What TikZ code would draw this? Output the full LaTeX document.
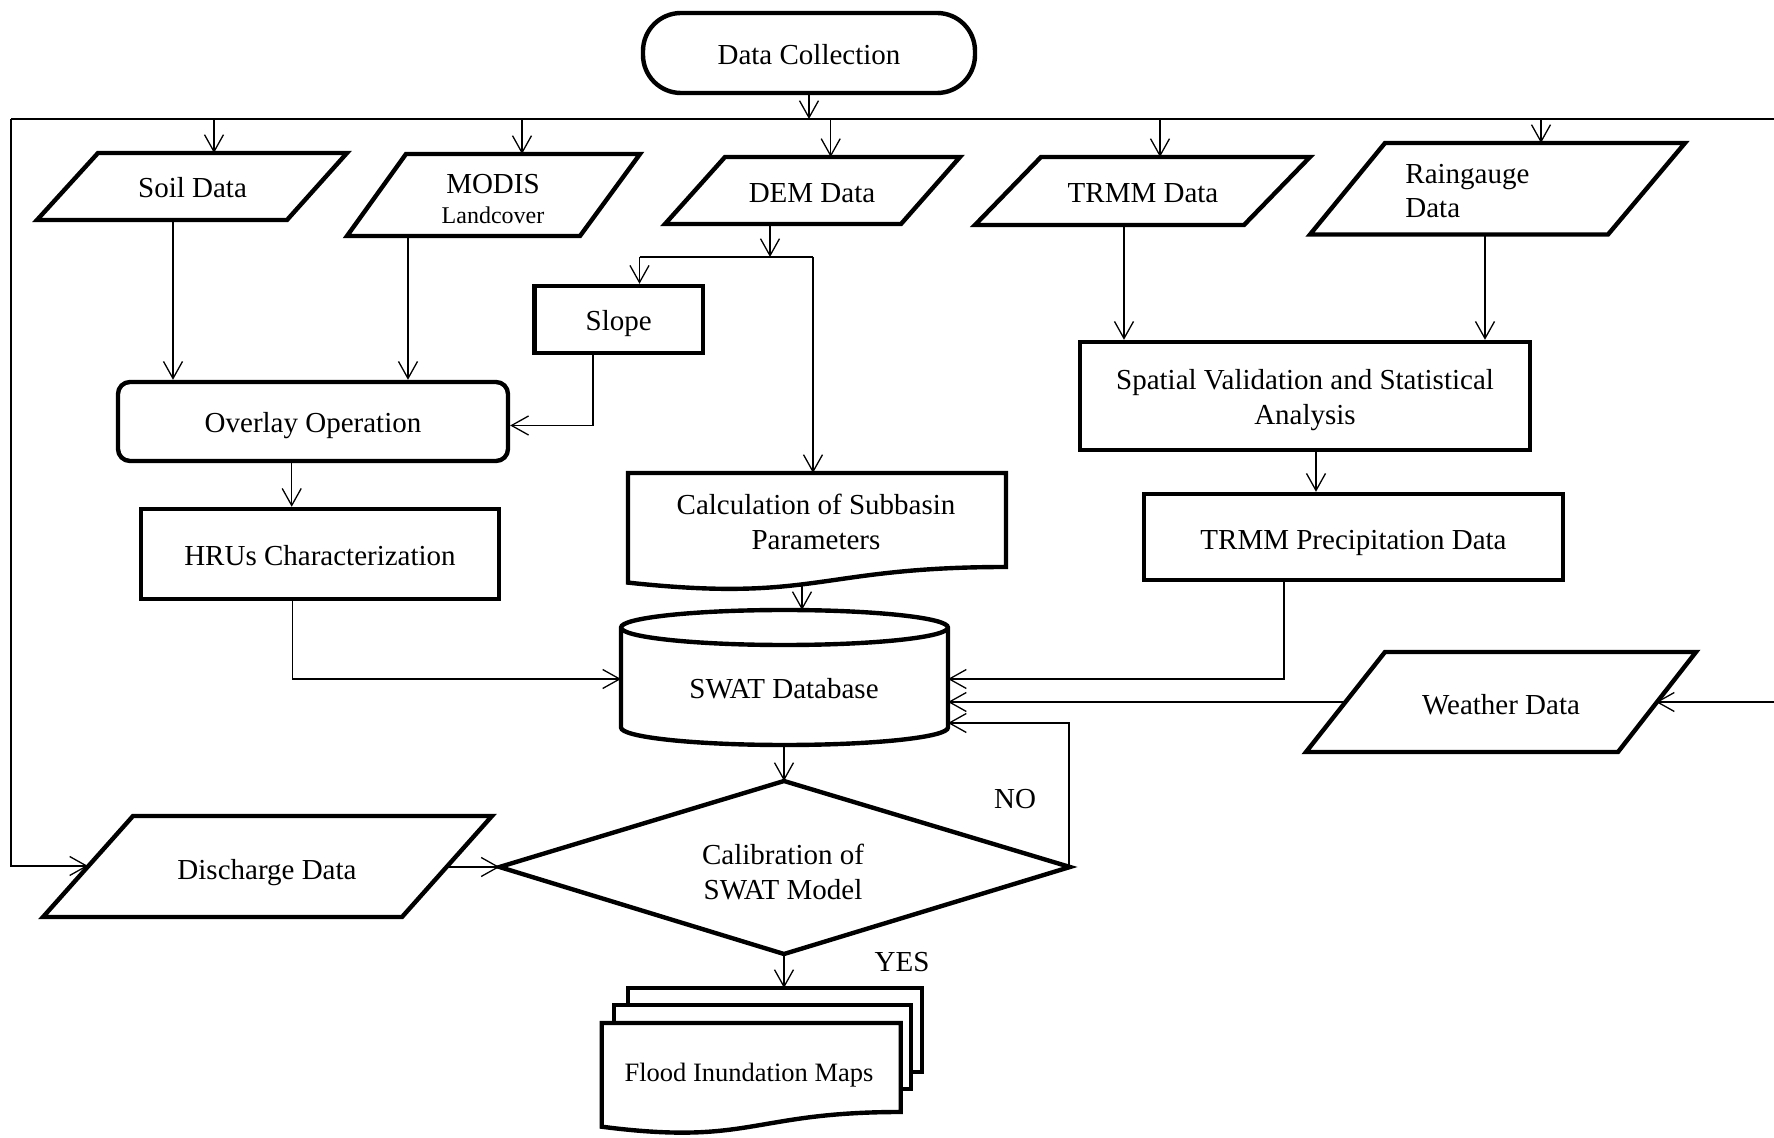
\documentclass[tikz,border=0pt]{standalone}
\usepackage{fontspec}
\setmainfont{Liberation Serif}
\usetikzlibrary{arrows.meta}
\begin{document}
\begin{tikzpicture}[x=0.5pt,y=-0.5pt,
  shp/.style={draw, line width=2.2pt, line join=miter, fill=white},
  con/.style={line width=0.65pt, -{Straight Barb[length=8.5pt,width=9.5pt]}},
  ln/.style={line width=0.65pt},
  txt/.style={font=\fontsize{14.5pt}{17.4pt}\selectfont, inner sep=0pt, align=center},
  rbox/.style={shp, inner sep=0pt},
]
\useasboundingbox (0,0) rectangle (1774,1138);

% ---------- shapes ----------
\node[rbox, rounded corners=19pt, minimum width=166pt, minimum height=40pt] (dc) at (809,53) {};
\node[txt] (dcT) at (809,54.5) {Data Collection};

\draw[shp] (98,153) -- (347,153) -- (287,220) -- (37,220) -- cycle;
\node[txt] (soil) at (192.5,187.5) {Soil Data};

\draw[shp] (406,154) -- (640,154) -- (580,236) -- (347,236) -- cycle;
\node[txt] (modis) at (493,184) {MODIS};
\node[txt, font=\fontsize{12pt}{14pt}\selectfont] (modisb) at (493,215.5) {Landcover};

\draw[shp] (725,157) -- (960,157) -- (901,224) -- (665,224) -- cycle;
\node[txt] (dem) at (812,193) {DEM Data};

\draw[shp] (1041,157) -- (1310,157) -- (1244,225) -- (975,225) -- cycle;
\node[txt] (trmm) at (1143,193) {TRMM Data};

\draw[shp] (1385,143) -- (1685,143) -- (1608,234.5) -- (1310,234.5) -- cycle;
\node[txt, align=left, anchor=west] (rain) at (1405,191) {Raingauge\\Data};

\node[rbox, minimum width=84.25pt, minimum height=33.5pt] (slope) at (618.75,319.5) {};
\node[txt] (slopeT) at (618.75,324) {Slope};
\node[rbox, rounded corners=6pt, minimum width=195pt, minimum height=39.5pt] (overlay) at (313,421.5) {};
\node[txt] (overlayT) at (313,426) {Overlay Operation};
\node[rbox, minimum width=179pt, minimum height=45pt] (hrus) at (320,554) {};
\node[txt] (hrusT) at (320,555.5) {HRUs Characterization};

\draw[shp] (628,473) -- (1006,473) -- (1006,567) .. controls (817,567) and (817,603) .. (628,582.6) -- cycle;
\node[txt] (calc) at (816,522) {Calculation of Subbasin\\Parameters};

\node[rbox, minimum width=225pt, minimum height=54pt] (spatial) at (1305,396) {};
\node[txt] (spatialT) at (1305,400) {Spatial Validation and Statistical\\Analysis};
\node[rbox, minimum width=209.5pt, minimum height=43pt] (prec) at (1353.5,537) {};
\node[txt] (precT) at (1353.5,542.5) {TRMM Precipitation Data};

% SWAT cylinder
\draw[shp] (621,627.5) -- (621,727.5) arc[start angle=180, end angle=0, x radius=163.5, y radius=17.5]
  -- (948,627.5) arc[start angle=0, end angle=-180, x radius=163.5, y radius=17.5] -- cycle;
\draw[line width=2.2pt] (621,627.5) arc[start angle=180, end angle=0, x radius=163.5, y radius=17.5];
\node[txt] (swat) at (784,689) {SWAT Database};

\draw[shp] (1385,652) -- (1696,652) -- (1618,752) -- (1306,752) -- cycle;
\node[txt] (weather) at (1501,705) {Weather Data};

\draw[shp] (133,816) -- (492,816) -- (402,917) -- (43,917) -- cycle;
\node[txt] (discharge) at (267,872.5) {Discharge Data};

\draw[shp] (784,781) -- (1070,867) -- (784,954) -- (499.5,867) -- cycle;
\node[txt] (calib) at (783,872) {Calibration of\\SWAT Model};

\draw[shp] (628,988) rectangle (922,1072);
\draw[shp] (614,1005) rectangle (911,1089);
\draw[shp] (601.7,1023) -- (900.7,1023) -- (900.7,1112) .. controls (751,1112) and (751,1146) .. (601.7,1126.7) -- cycle;
\node[txt, font=\fontsize{13.25pt}{16pt}\selectfont] (flood) at (749,1075.5) {Flood Inundation Maps};

\node[txt] (no) at (1015,799) {NO};
\node[txt] (yes) at (902,962) {YES};

% ---------- connection points ----------
\coordinate (topL) at (11,119);
\coordinate (topR) at (1774,119);
\coordinate (soilT) at (214,153);    \coordinate (soilB) at (173,220);
\coordinate (modisT) at (522,154);   \coordinate (modisB) at (408,236);
\coordinate (demT) at (830.7,157);   \coordinate (demB) at (770,224);
\coordinate (trmmT) at (1160,157);   \coordinate (trmmB) at (1124,225);
\coordinate (rainT) at (1541,143);   \coordinate (rainB) at (1485,234.5);
\coordinate (demJ) at (770,257);
\coordinate (slopeJ) at (639.5,257); \coordinate (calcJ) at (813,257);
\coordinate (calcT) at (813,473);    \coordinate (calcB) at (802,584);
\coordinate (slopeO) at (593,353);
\coordinate (ovB) at (291.7,461);
\coordinate (hruB) at (292.5,599);
\coordinate (spB) at (1316,450);
\coordinate (precB) at (1284,580);
\coordinate (swatT) at (802,610);    \coordinate (swatB) at (784,745);
\coordinate (swatL) at (621,679);
\coordinate (swatR1) at (948,679);   \coordinate (swatR2) at (948,702);
\coordinate (swatR3) at (948,723);
\coordinate (weaL) at (1345,702);    \coordinate (weaR) at (1656,702);
\coordinate (rightE) at (1774,702);
\coordinate (disL) at (88,866);      \coordinate (disR) at (447,867);
\coordinate (diaT) at (784,781);     \coordinate (diaB) at (784,954);
\coordinate (diaL) at (499.5,867);   \coordinate (diaR) at (1069,867);
\coordinate (floodT) at (784,988);

% ---------- connectors ----------
\draw[ln] (topL) -- (topR);
\draw[con] (dc.south) -- (dc.south |- topL);
\draw[con] (soilT |- topL) -- (soilT);
\draw[con] (modisT |- topL) -- (modisT);
\draw[con] (demT |- topL) -- (demT);
\draw[con] (trmmT |- topL) -- (trmmT);
\draw[con] (rainT |- topL) -- (rainT);

\draw[con] (soilB) -- (soilB |- overlay.north);
\draw[con] (modisB) -- (modisB |- overlay.north);
\draw[con] (demB) -- (demJ);
\draw[ln] (slopeJ) -- (calcJ);
\draw[con] (slopeJ) -- (slopeJ |- slope.north);
\draw[con] (calcJ) -- (calcT);
\draw[con] (slopeO) |- ([yshift=-2pt]overlay.east);
\draw[con] (ovB) -- (ovB |- hrus.north);
\draw[con] (hruB) |- (swatL);
\draw[con] (calcB) -- (swatT);

\draw[con] (trmmB) -- (trmmB |- spatial.north);
\draw[con] (rainB) -- (rainB |- spatial.north);
\draw[con] (spB) -- (spB |- prec.north);
\draw[con] (precB) |- (swatR1);
\draw[con] (weaL) -- (swatR2);
\draw[con] (rightE) -- (weaR);

\draw[con] (swatB) -- (diaT);
\draw[con] (diaR) |- (swatR3);
\draw[con] (topL) |- (disL);
\draw[con] (disR) -- (diaL);
\draw[con] (diaB) -- (floodT);
\end{tikzpicture}
\end{document}
